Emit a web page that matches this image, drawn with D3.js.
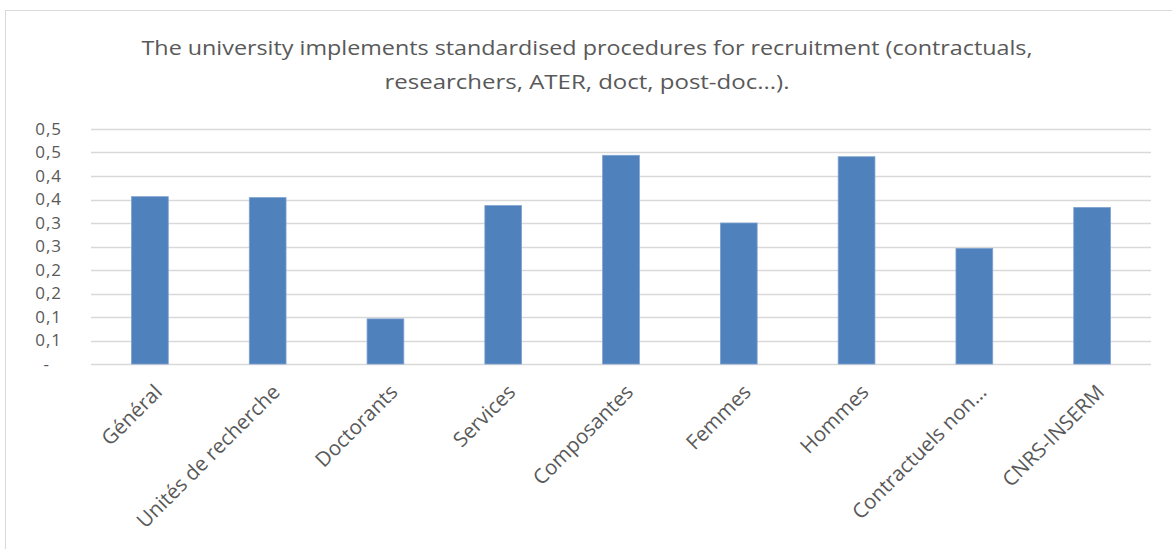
<!DOCTYPE html>
<html>
<head>
<meta charset="utf-8">
<script src="https://cdn.jsdelivr.net/npm/d3@7"></script>
<style>
    body { margin: 0; background: #fff; }
    svg { display: block; }
</style>
</head>
<body>
<svg id="chart"></svg>
<script>
const categories = ['Général', 'Unités de recherche', 'Doctorants', 'Services', 'Composantes',
    'Femmes', 'Hommes', 'Contractuels non…', 'CNRS-INSERM'];
const values = [0.356, 0.354, 0.096, 0.337, 0.444, 0.300, 0.441, 0.246, 0.333];
const yTicks = [0, 0.05, 0.1, 0.15, 0.2, 0.25, 0.3, 0.35, 0.4, 0.45, 0.5];
const titleLines = ['The university implements standardised procedures for recruitment (contractuals,',
    'researchers, ATER, doct, post-doc...).'];

const width = 1172, height = 549;
const margin = { top: 129, right: 21, bottom: 185, left: 91 };
const innerW = width - margin.left - margin.right;
const innerH = height - margin.top - margin.bottom;

const svg = d3.select('#chart')
    .attr('width', width)
    .attr('height', height);

// chart frame
svg.append('rect')
    .attr('x', 5.5)
    .attr('y', 10.5)
    .attr('width', width)
    .attr('height', height)
    .attr('fill', '#fff')
    .attr('stroke', '#d9d9d9');

// title
svg.append('g')
    .selectAll('text')
    .data(titleLines)
    .join('text')
    .attr('x', 587)
    .attr('y', (d, i) => 55 + i * 34)
    .attr('text-anchor', 'middle')
    .attr('font-family', '"Open Sans", sans-serif')
    .attr('font-size', 20)
    .attr('fill', '#595959')
    .attr('textLength', (d, i) => i === 0 ? 891 : 405)
    .attr('lengthAdjust', 'spacingAndGlyphs')
    .text(d => d);

const g = svg.append('g')
    .attr('transform', `translate(${margin.left},${margin.top})`);

const x = d3.scaleBand()
    .domain(categories)
    .range([0, innerW])
    .paddingInner(0.688)
    .paddingOuter(0.344);

const y = d3.scaleLinear()
    .domain([0, 0.5])
    .range([innerH, 0]);

// gridlines
g.append('g')
    .selectAll('line')
    .data(yTicks)
    .join('line')
    .attr('x1', 0)
    .attr('x2', innerW)
    .attr('y1', d => Math.round(y(d)) + 0.5)
    .attr('y2', d => Math.round(y(d)) + 0.5)
    .attr('stroke', '#d9d9d9')
    .attr('stroke-width', 1.3);

// excel style one-decimal label, half rounds up
const fmt = d => d === 0 ? '-' : (Math.round(d * 10 + 1e-9) / 10).toFixed(1).replace('.', ',');

// y axis
const yAxis = g.append('g')
    .call(d3.axisLeft(y)
        .tickValues(yTicks)
        .tickSize(0)
        .tickPadding(29)
        .tickFormat(fmt));
yAxis.select('.domain').remove();
yAxis.selectAll('text')
    .attr('font-family', '"Open Sans", sans-serif')
    .attr('font-size', 17)
    .attr('letter-spacing', 1)
    .attr('fill', '#595959');
yAxis.selectAll('.tick')
    .filter(d => d === 0)
    .select('text')
    .attr('dx', -12);

// bars
g.append('g')
    .selectAll('rect')
    .data(values)
    .join('rect')
    .attr('x', (d, i) => x(categories[i]))
    .attr('y', d => y(d))
    .attr('width', x.bandwidth())
    .attr('height', d => y(0) - y(d))
    .attr('fill', '#4f81bd')
    .attr('stroke', '#7ea1d0')
    .attr('stroke-width', 0.8);

// x labels
g.append('g')
    .selectAll('text')
    .data(categories)
    .join('text')
    .attr('transform', d => `translate(${x(d) + x.bandwidth() / 2 + 3},${innerH + 19}) rotate(-45)`)
    .attr('text-anchor', 'end')
    .attr('dy', '0.72em')
    .attr('font-family', '"Open Sans", sans-serif')
    .attr('font-size', 20.5)
    .attr('fill', '#595959')
    .text(d => d);
</script>
</body>
</html>
